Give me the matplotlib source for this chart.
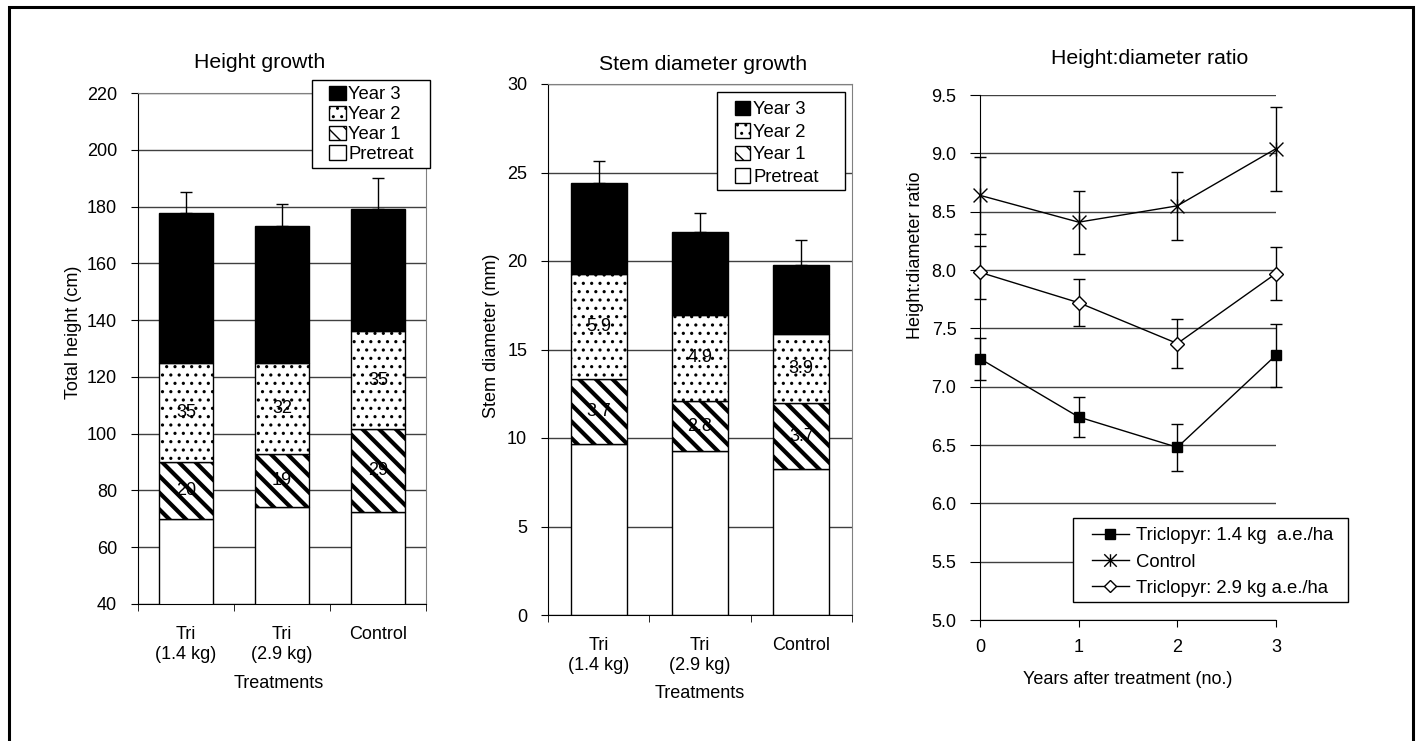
import numpy as np
import matplotlib
matplotlib.use('Agg')
import matplotlib.pyplot as plt
from matplotlib.path import Path
from matplotlib.patches import Rectangle, Patch
from matplotlib.lines import Line2D

plt.rcParams['font.family'] = ['Liberation Sans', 'DejaVu Sans']
plt.rcParams['font.size'] = 13

W, H = 1421, 741

# ---- data ----
treatments = ['Tri\n(1.4 kg)', 'Tri\n(2.9 kg)', 'Control']

# height growth (cm), stacked increments
height_pre = [70, 74, 72.5]
height_y1 = [20, 19, 29]
height_y2 = [35, 32, 34.6]
height_y3 = [52.7, 48, 42.9]
height_err = [7.3, 8, 11]

# stem diameter growth (mm), stacked increments
diam_pre = [9.66, 9.27, 8.25]
diam_y1 = [3.7, 2.8, 3.7]
diam_y2 = [5.9, 4.9, 3.9]
diam_y3 = [5.14, 4.67, 3.92]
diam_err = [1.25, 1.06, 1.43]

# height:diameter ratio
years = [0, 1, 2, 3]
ratio_tri14 = [7.24, 6.74, 6.48, 7.27]
ratio_tri14_err = [0.18, 0.17, 0.20, 0.27]
ratio_control = [8.64, 8.41, 8.55, 9.04]
ratio_control_err = [0.33, 0.27, 0.29, 0.36]
ratio_tri29 = [7.98, 7.72, 7.37, 7.97]
ratio_tri29_err = [0.23, 0.20, 0.21, 0.23]


def px(x, y):
    return x / W, 1 - y / H


def axes_at(x0, y0, x1, y1):
    return fig.add_axes([x0 / W, 1 - y1 / H, (x1 - x0) / W, (y1 - y0) / H])


def legend_box(ax, x0, y0, x1, y1):
    # white legend frame in figure pixels, drawn under the legend itself
    ax.add_patch(Rectangle(px(x0, y1), (x1 - x0) / W, (y1 - y0) / H,
                           transform=fig.transFigure, facecolor='white',
                           edgecolor='black', linewidth=1, clip_on=False, zorder=4.5))


fig = plt.figure(figsize=(W / 100, H / 100), dpi=100)

# figure frame
fig.patches.append(Rectangle((8.5 / W, -0.05), (1413 - 8.5) / W, 1.05 - 7.5 / H,
                             transform=fig.transFigure, fill=False,
                             edgecolor='black', linewidth=2.2))


def stacked_panel(ax, pre, y1, y2, y3, err, fmt, ylim, step, width):
    x = np.arange(len(treatments))
    ax.set_xlim(-0.5, 2.5)
    ax.set_ylim(*ylim)
    ax.set_yticks(np.arange(ylim[0], ylim[1] + step / 2, step))
    ax.set_axisbelow(True)
    ax.yaxis.grid(True, color='#404040', linewidth=1)

    ax.bar(x, pre, width, color='white', edgecolor='black', linewidth=1)
    bottom = np.array(pre, dtype=float)
    b1 = ax.bar(x, y1, width, bottom=bottom, color='white', edgecolor='black',
                linewidth=1, hatch='\\\\')
    for p in b1:
        if hasattr(p, 'set_hatch_linewidth'):
            p.set_hatch_linewidth(3.0)
    ax.bar_label(b1, labels=[fmt % v for v in y1], label_type='center', fontsize=13)
    bottom += y1
    b2 = ax.bar(x, y2, width, bottom=bottom, color='white', edgecolor='black',
                linewidth=1, hatch='..')
    for p in b2:
        if hasattr(p, 'set_hatch_linewidth'):
            p.set_hatch_linewidth(1.1)
    ax.bar_label(b2, labels=[fmt % v for v in y2], label_type='center', fontsize=13)
    bottom += y2
    ax.bar(x, y3, width, bottom=bottom, color='black', edgecolor='black', linewidth=1)
    bottom += y3
    ax.errorbar(x, bottom, yerr=[np.zeros(3), err], fmt='none', ecolor='black',
                elinewidth=1, capsize=4, capthick=1)

    ax.set_xticks(x)
    ax.set_xticklabels(treatments)
    ax.set_xticks([-0.5, 0.5, 1.5, 2.5], minor=True)
    ax.tick_params(axis='x', which='major', length=0, pad=16)
    ax.tick_params(axis='x', which='minor', length=5, direction='out')
    ax.tick_params(axis='y', length=5, direction='out', pad=10)
    for s in ['top', 'right']:
        ax.spines[s].set_color('#808080')
    for s in ['left', 'bottom']:
        ax.spines[s].set_color('black')

    h3 = Patch(facecolor='black', edgecolor='black', label='Year 3')
    h2 = Patch(facecolor='white', edgecolor='black', hatch='..', label='Year 2')
    h1 = Patch(facecolor='white', edgecolor='black', hatch='\\\\', label='Year 1')
    h0 = Patch(facecolor='white', edgecolor='black', label='Pretreat')
    return [h3, h2, h1, h0]


leg_kw = dict(loc='upper left', bbox_transform=fig.transFigure, borderaxespad=0,
              borderpad=0, frameon=False, fontsize=13.3, handleheight=0.8)

# ---- left: height growth ----
ax1 = axes_at(138, 93, 426, 604)
handles = stacked_panel(ax1, height_pre, height_y1, height_y2, height_y3, height_err,
                        '%.0f', (40, 220), 20, 0.57)
legend_box(ax1, 312, 80, 430, 168)
leg = ax1.legend(handles=handles, bbox_to_anchor=px(329, 86), handlelength=0.9,
                 handletextpad=0.15, labelspacing=0.125, **leg_kw)
leg.set_zorder(5)
fig.text(*px(260, 62), 'Height growth', ha='center', va='center', fontsize=15.3)
fig.text(*px(73, 332), 'Total height (cm)', ha='center', va='center', rotation=90)
fig.text(*px(279, 683), 'Treatments', ha='center', va='center')

# ---- middle: stem diameter ----
ax2 = axes_at(548, 84, 852, 615)
handles = stacked_panel(ax2, diam_pre, diam_y1, diam_y2, diam_y3, diam_err,
                        '%.1f', (0, 30), 5, 0.55)
legend_box(ax2, 717, 92, 845, 190)
leg = ax2.legend(handles=handles, bbox_to_anchor=px(735, 101), handlelength=0.8,
                 handletextpad=0.2, labelspacing=0.27, **leg_kw)
leg.set_zorder(5)
fig.text(*px(703, 64), 'Stem diameter growth', ha='center', va='center', fontsize=15.3)
fig.text(*px(491, 336), 'Stem diameter (mm)', ha='center', va='center', rotation=90)
fig.text(*px(700, 694), 'Treatments', ha='center', va='center')

# ---- right: height:diameter ratio ----
ax3 = axes_at(980, 95, 1276, 620)
ax3.set_xlim(0, 3)
ax3.set_ylim(5, 9.5)
ax3.set_yticks(np.arange(5, 9.51, 0.5))
ax3.set_yticklabels(['%.1f' % v for v in np.arange(5, 9.51, 0.5)])
ax3.set_xticks(years)
ax3.set_axisbelow(True)
ax3.yaxis.grid(True, color='#404040', linewidth=1)
ax3.spines['top'].set_visible(False)
ax3.spines['right'].set_visible(False)
ax3.tick_params(axis='y', length=7, direction='out', pad=10)
ax3.tick_params(axis='x', length=5, direction='out', pad=9)

star = Path([(-1, -1), (1, 1), (-1, 1), (1, -1), (0, -1), (0, 1)],
            [Path.MOVETO, Path.LINETO, Path.MOVETO, Path.LINETO, Path.MOVETO, Path.LINETO])

series = [
    (ratio_tri14, ratio_tri14_err, 's', 7.5, 'black', 'Triclopyr: 1.4 kg  a.e./ha'),
    (ratio_control, ratio_control_err, star, 10, 'none', 'Control'),
    (ratio_tri29, ratio_tri29_err, 'D', 7, 'white', 'Triclopyr: 2.9 kg a.e./ha'),
]
leg_handles = []
for vals, err, mk, ms, mfc, lab in series:
    eb = ax3.errorbar(years, vals, yerr=err, color='black', linewidth=1, marker=mk,
                      markersize=ms, markerfacecolor=mfc, markeredgecolor='black',
                      markeredgewidth=1, ecolor='black', elinewidth=1, capsize=4,
                      capthick=1, clip_on=False, zorder=3)
    for art in eb.lines[1] + eb.lines[2]:
        art.set_clip_on(False)
    leg_handles.append(Line2D([], [], color='black', linewidth=1, marker=mk,
                              markersize=ms * 0.9, markerfacecolor=mfc,
                              markeredgecolor='black', label=lab))

legend_box(ax3, 1073, 518, 1348, 602)
leg = ax3.legend(handles=leg_handles, bbox_to_anchor=px(1092, 527), handlelength=2.0,
                 handletextpad=0.38, labelspacing=0.47, **leg_kw)
leg.set_zorder(5)
fig.text(*px(1150, 58), 'Height:diameter ratio', ha='center', va='center', fontsize=15.3)
fig.text(*px(915, 255), 'Height:diameter ratio', ha='center', va='center', rotation=90)
fig.text(*px(1128, 680), 'Years after treatment (no.)', ha='center', va='center')

fig.savefig('out.png', dpi=100)
